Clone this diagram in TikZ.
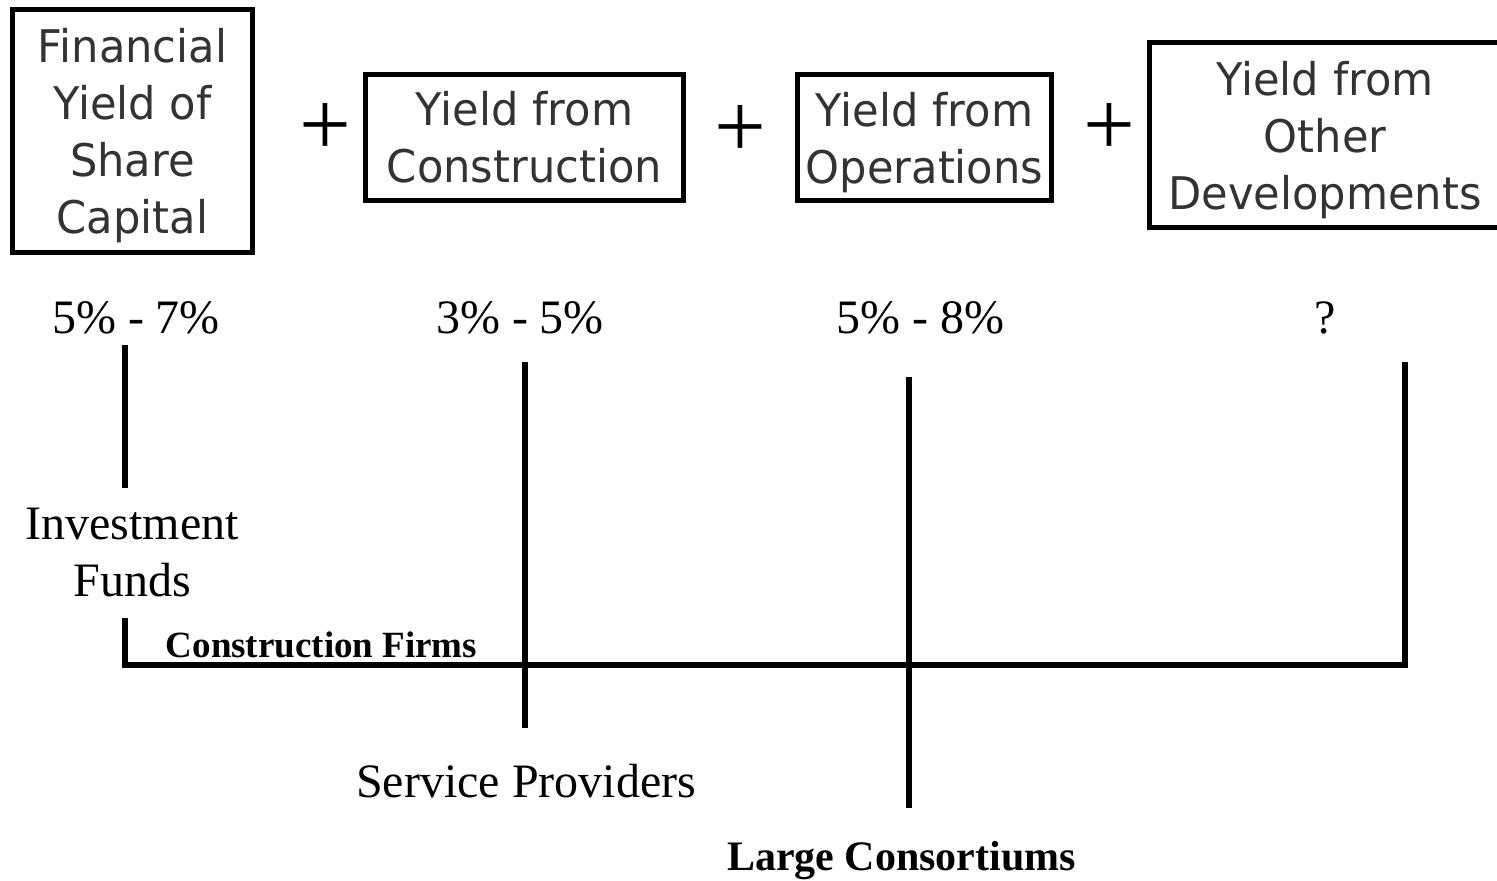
\documentclass[tikz,border=0pt]{standalone}
\usepackage{fontspec}
\setmainfont{Liberation Serif}
\newfontfamily\boxfont[FakeStretch=0.96]{DejaVu Sans}
\definecolor{boxtext}{RGB}{51,51,51}
\newcommand{\nodepth}[1]{\raisebox{0pt}[\height][0pt]{#1}}
\begin{document}
\begin{tikzpicture}[x=0.5pt,y=-0.5pt,
  yieldbox/.style={draw=black, line width=2.75pt, inner sep=0pt, align=center,
    text=boxtext, font=\boxfont\fontsize{22.5}{28.5}\selectfont},
  plussign/.style={inner sep=0pt, font=\fontsize{46}{46}\selectfont},
  pct/.style={anchor=base, inner sep=0pt, font=\fontsize{24}{28}\selectfont},
  actor/.style={inner sep=0pt, align=center, font=\fontsize{24}{28.5}\selectfont},
  link/.style={line width=2.75pt, line cap=butt, line join=miter}
]
\useasboundingbox (0,0) rectangle (1497,880);

% yield boxes
\node[yieldbox, minimum width=120pt, minimum height=121.5pt] (fin) at (132.5,131)
  {Financial\\Yield of\\Share\\\nodepth{Capital}};
\node[yieldbox, minimum width=159pt, minimum height=63pt] (cons) at (524.5,137.5)
  {Yield from\\Construction};
\node[yieldbox, minimum width=127pt, minimum height=63pt] (oper) at (924.5,137.5)
  {Yield from\\\nodepth{Operations}};
\node[yieldbox, minimum width=175.5pt, minimum height=92.5pt] (other) at (1325,135)
  {Yield from\\Other\\\nodepth{Developments}};

% plus signs
\node[plussign] (plusA) at (325,130) {+};
\node[plussign] (plusB) at (740,132) {+};
\node[plussign] (plusC) at (1109,130) {+};

% percentages
\node[pct] (pfin) at (136,333) {5\% - 7\%};
\node[pct] (pcons) at (520,333) {3\% - 5\%};
\node[pct] (poper) at (920,333) {5\% - 8\%};
\node[pct] (pother) at (1325,333) {?};

% actors
\node[actor] (inv) at (132,552.5) {Investment\\Funds};
\node[actor, anchor=base] (serv) at (526,797) {Service Providers};
\node[anchor=base, inner sep=0pt, font=\bfseries\fontsize{18.5}{22}\selectfont] (cfirms) at (321.5,657) {Construction Firms};
\node[anchor=base, inner sep=0pt, font=\bfseries\fontsize{21}{25}\selectfont] (large) at (901.5,870) {Large Consortiums};

% connector coordinates
\coordinate (c1a) at (125,345);
\coordinate (c1b) at (125,488);
\coordinate (c1c) at (125,618);
\coordinate (c1d) at (125,665);
\coordinate (c4a) at (1405,362);
\coordinate (c4d) at (1405,665);
\coordinate (c2a) at (525,362);
\coordinate (c2b) at (525,728);
\coordinate (c3a) at (909,377);
\coordinate (c3b) at (909,808);

\draw[link] (c1a) -- (c1b);
\draw[link] (c1c) -- (c1d) -- (c4d) -- (c4a);
\draw[link] (c2a) -- (c2b);
\draw[link] (c3a) -- (c3b);
\end{tikzpicture}
\end{document}
